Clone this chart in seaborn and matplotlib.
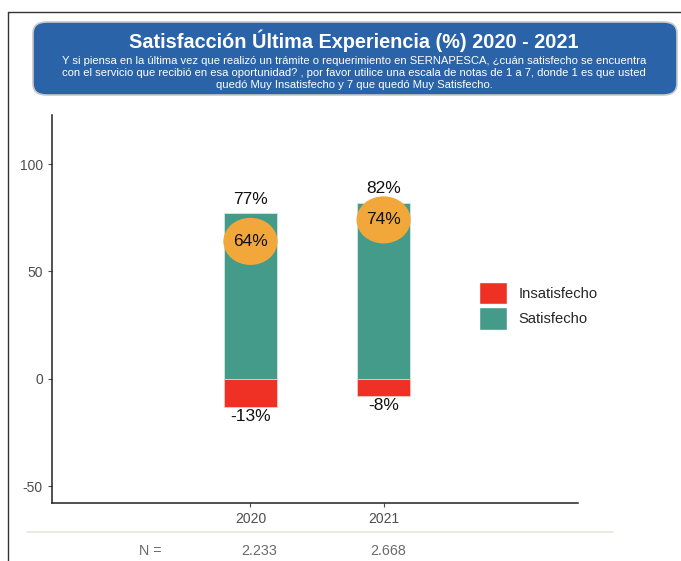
import numpy as np
import pandas as pd
import seaborn as sns
import matplotlib.pyplot as plt
from matplotlib.patches import FancyBboxPatch, Patch
from matplotlib.lines import Line2D
from matplotlib.path import Path

# data
years = ["2020", "2021"]
satisfecho = [77, 82]
insatisfecho = [-13, -8]
muy_satisfecho = [64, 74]
n_casos = ["2.233", "2.668"]

title = "Satisfacción Última Experiencia (%) 2020 - 2021"
subtitle = ("Y si piensa en la última vez que realizó un trámite o requerimiento en SERNAPESCA, ¿cuán satisfecho se encuentra\n"
            "con el servicio que recibió en esa oportunidad? , por favor utilice una escala de notas de 1 a 7, donde 1 es que usted\n"
            "quedó Muy Insatisfecho y 7 que quedó Muy Satisfecho.")

teal = "#459b89"
red = "#ee3124"
orange = "#f2a73b"
blue = "#2b63a9"

sns.set_style("white")
plt.rcParams['font.family'] = ['Liberation Sans', 'DejaVu Sans']
plt.rcParams['axes.unicode_minus'] = False

df = pd.DataFrame({"year": years, "sat": satisfecho, "ins": insatisfecho, "top": muy_satisfecho})

fig = plt.figure(figsize=(6.81, 5.61), dpi=100)
ax = fig.add_axes([52/681, 58/561, 526/681, 388/561])

sns.barplot(data=df, x="year", y="sat", color=teal, width=0.4, ax=ax,
            edgecolor="#cfe9e3", linewidth=0.6, saturation=1)
sns.barplot(data=df, x="year", y="ins", color=red, width=0.4, ax=ax,
            edgecolor="#f7c9c4", linewidth=0.6, saturation=1)

# wide oval marker for the "muy satisfecho" share
circ = Path.unit_circle()
oval = Path(circ.vertices * np.array([1.0, 0.87]), circ.codes)
sns.scatterplot(data=df, x="year", y="top", color=orange, s=1520, marker=oval, ax=ax,
                edgecolor="none", zorder=5)

for i in range(len(years)):
    ax.text(i, satisfecho[i] + 3, f"{satisfecho[i]}%", ha="center", va="bottom", fontsize=12.5, color="#111111")
    ax.text(i, insatisfecho[i] - 0.8, f"{insatisfecho[i]}%", ha="center", va="top", fontsize=12.5, color="#111111")
    ax.text(i, muy_satisfecho[i], f"{muy_satisfecho[i]}%", ha="center", va="center", fontsize=12.5,
            color="#111111", zorder=6)

ax.set_xlim(-1.49, 2.46)
ax.set_ylim(-57.7, 122.8)
ax.set_yticks([-50, 0, 50, 100])
ax.set_xlabel("")
ax.set_ylabel("")
ax.tick_params(axis="both", colors="#4d4d4d", labelsize=10, length=3, width=0.8, left=True, bottom=True)
ax.tick_params(axis="both", labelcolor="#4d4d4d")
for s in ["top", "right"]:
    ax.spines[s].set_visible(False)
for s in ["left", "bottom"]:
    ax.spines[s].set_color("#222222")
    ax.spines[s].set_linewidth(1.1)

handles = [Patch(facecolor=red, edgecolor="white", label="Insatisfecho"),
           Patch(facecolor=teal, edgecolor="white", label="Satisfecho")]
ax.legend(handles=handles, loc="center left", bbox_to_anchor=(0.787, 0.508), frameon=False,
          fontsize=10.6, handlelength=1.9, handleheight=1.95, handletextpad=0.75, labelspacing=0.2)

# page frame
fig.add_artist(Line2D([8/681, 8/681], [0, 1 - 12/561], color="#333333", lw=1))
fig.add_artist(Line2D([8/681, 1], [1 - 12/561, 1 - 12/561], color="#333333", lw=1))

# title box
box = FancyBboxPatch((33/681, 1 - 95/561), (677 - 33)/681, 73/561,
                     boxstyle="round,pad=0,rounding_size=0.02", transform=fig.transFigure,
                     facecolor=blue, edgecolor="#c8c8c8", linewidth=1.2)
fig.add_artist(box)
fig.text(354/681, 1 - 41/561, title, ha="center", va="center", color="white",
         fontsize=14.3, fontweight="bold")
fig.text(354/681, 1 - 73/561, subtitle, ha="center", va="center", color="white",
         fontsize=8.1, linespacing=1.3)

# N row
fig.add_artist(Line2D([27/681, 613/681], [1 - 532/561, 1 - 532/561], color="#e6e8d8", lw=1.2))
fig.text(150/681, 1 - 551/561, "N =", ha="center", va="center", color="#6a6a6a", fontsize=10.3)
fig.text(259/681, 1 - 551/561, n_casos[0], ha="center", va="center", color="#6a6a6a", fontsize=10.3)
fig.text(388/681, 1 - 551/561, n_casos[1], ha="center", va="center", color="#6a6a6a", fontsize=10.3)

fig.savefig("out.png", dpi=100)
